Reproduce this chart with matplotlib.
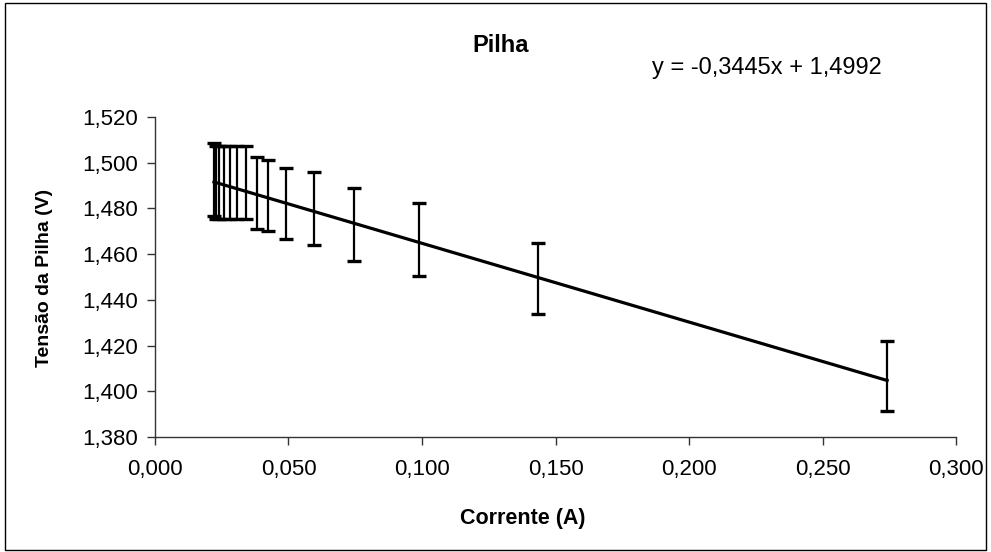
import matplotlib
matplotlib.use("Agg")
import matplotlib.pyplot as plt
from matplotlib.patches import Rectangle
from matplotlib.ticker import FuncFormatter
import numpy as np

# Measured current (A), battery voltage (V) and its uncertainty (V)
corrente = [0.0221, 0.0228, 0.0240, 0.0258, 0.0281, 0.0307, 0.0341, 0.0382,
            0.0423, 0.0491, 0.0594, 0.0745, 0.0987, 0.1434, 0.2742]
tensao = [1.4925, 1.4915, 1.4913, 1.4912, 1.4912, 1.4912, 1.4912, 1.4867,
          1.4857, 1.4821, 1.4800, 1.4730, 1.4664, 1.4494, 1.4068]
erro = [0.0160, 0.0160, 0.0160, 0.0160, 0.0160, 0.0160, 0.0160, 0.0158,
        0.0157, 0.0156, 0.0160, 0.0160, 0.0160, 0.0157, 0.0153]

# Linear fit reported on the chart
inclinacao = -0.3445
intercepto = 1.4992

x_ticks = [0.000, 0.050, 0.100, 0.150, 0.200, 0.250, 0.300]
y_ticks = [1.380, 1.400, 1.420, 1.440, 1.460, 1.480, 1.500, 1.520]

plt.rcParams['font.family'] = ['Liberation Sans', 'DejaVu Sans']

fig = plt.figure(figsize=(9.91, 5.52), dpi=100)
fig.patch.set_facecolor('white')
fig.patches.append(Rectangle((0.005, 0.004), 0.99, 0.99, transform=fig.transFigure,
                             fill=False, edgecolor='black', linewidth=1.0))

ax = fig.add_axes([0.1564, 0.2083, 0.8083, 0.5797])

ax.errorbar(corrente, tensao, yerr=erro, fmt='none', ecolor='black',
            elinewidth=1.6, capsize=5, capthick=2.4)

xs = np.array([min(corrente), max(corrente)])
ax.plot(xs, inclinacao * xs + intercepto, color='black', linewidth=2.3)

ax.set_xlim(x_ticks[0], x_ticks[-1])
ax.set_ylim(y_ticks[0], y_ticks[-1])
ax.set_xticks(x_ticks)
ax.set_yticks(y_ticks)
fmt = FuncFormatter(lambda v, p: f"{v:.3f}".replace('.', ','))
ax.xaxis.set_major_formatter(fmt)
ax.yaxis.set_major_formatter(fmt)

for s in ['top', 'right']:
    ax.spines[s].set_visible(False)
for s in ['left', 'bottom']:
    ax.spines[s].set_color('#333333')
    ax.spines[s].set_linewidth(1.0)

ax.tick_params(axis='both', direction='out', length=6, width=1.0, color='#333333',
               labelsize=16, pad=6)
ax.tick_params(axis='x', pad=10)

fig.text(0.527, 0.060, 'Corrente (A)', fontsize=15.5, fontweight='bold',
         ha='center', va='center')
fig.text(0.045, 0.496, 'Tensão da Pilha (V)', fontsize=14, fontweight='bold',
         ha='center', va='center', rotation=90)

fig.text(0.505, 0.918, 'Pilha', fontsize=17, fontweight='bold', ha='center', va='center')
fig.text(0.658, 0.877, 'y = -0,3445x + 1,4992', fontsize=17, ha='left', va='center')

fig.savefig('out.png', dpi=100, facecolor='white')
